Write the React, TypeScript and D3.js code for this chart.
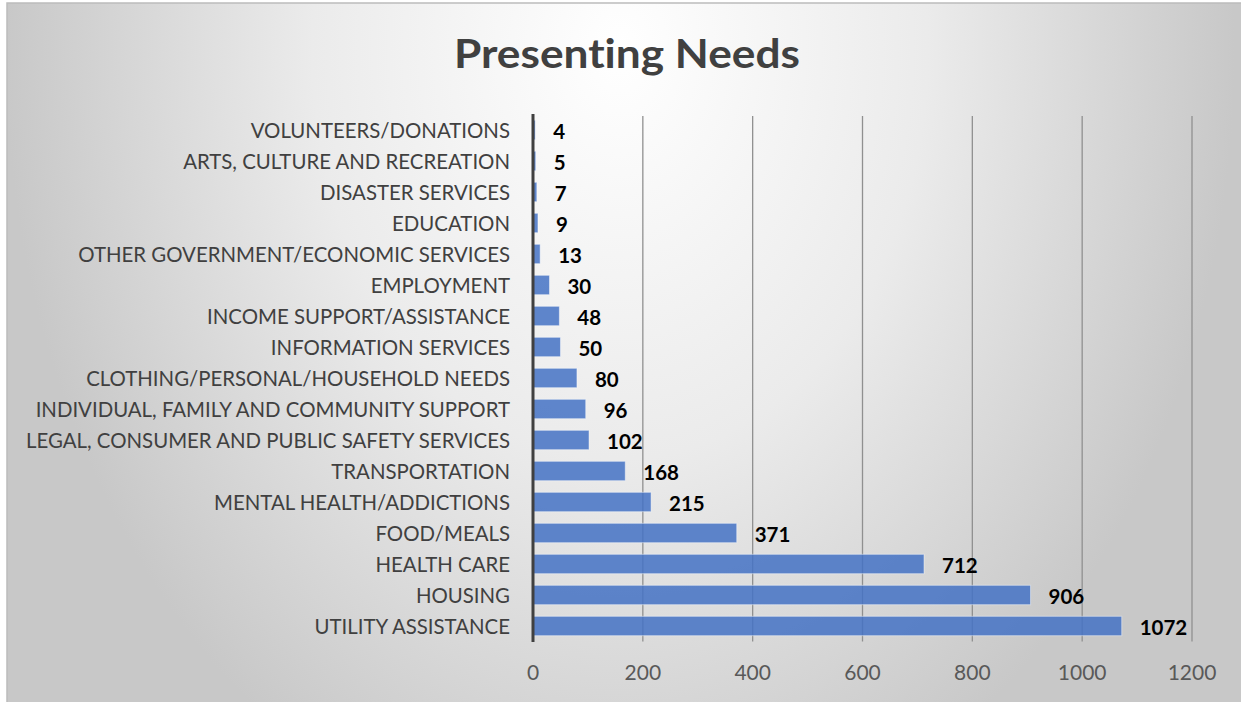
import React from "react";
import * as d3 from "d3";

const categories = [
  "VOLUNTEERS/DONATIONS",
  "ARTS, CULTURE AND RECREATION",
  "DISASTER SERVICES",
  "EDUCATION",
  "OTHER GOVERNMENT/ECONOMIC SERVICES",
  "EMPLOYMENT",
  "INCOME SUPPORT/ASSISTANCE",
  "INFORMATION SERVICES",
  "CLOTHING/PERSONAL/HOUSEHOLD NEEDS",
  "INDIVIDUAL, FAMILY AND COMMUNITY SUPPORT",
  "LEGAL, CONSUMER AND PUBLIC SAFETY SERVICES",
  "TRANSPORTATION",
  "MENTAL HEALTH/ADDICTIONS",
  "FOOD/MEALS",
  "HEALTH CARE",
  "HOUSING",
  "UTILITY ASSISTANCE",
];
const values = [4, 5, 7, 9, 13, 30, 48, 50, 80, 96, 102, 168, 215, 371, 712, 906, 1072];
const xTicks = [0, 200, 400, 600, 800, 1000, 1200];
const title = "Presenting Needs";

const W = 1241;
const H = 702;
const FONT = "Lato, 'Open Sans', sans-serif";
const noLig: React.CSSProperties = {
  fontVariantLigatures: "none",
  fontFeatureSettings: '"liga" 0, "clig" 0',
};

export default function App() {
  const x = d3.scaleLinear().domain([0, 1200]).range([533, 1192]);
  const y = d3
    .scaleBand<string>()
    .domain(categories)
    .range([114.5, 641.5])
    .paddingInner(0.375)
    .paddingOuter(0.1875);

  return (
    <div style={{ position: "absolute", left: 0, top: 0, width: W, height: H }}>
      <svg width={W} height={H} style={{ display: "block" }}>
        <defs>
          <radialGradient
            id="bg"
            gradientUnits="userSpaceOnUse"
            cx={620}
            cy={50}
            r={615}
            gradientTransform="translate(620,50) scale(1,1.33) translate(-620,-50)"
          >
            <stop offset="0" stopColor="#ffffff" />
            <stop offset="0.5" stopColor="#ebebeb" />
            <stop offset="1" stopColor="#c8c8c8" />
          </radialGradient>
        </defs>
        <rect x={0} y={0} width={W} height={H} fill="#ffffff" />
        <rect x={7} y={3} width={W} height={H} fill="url(#bg)" stroke="#bcbcbc" strokeWidth={1.5} />

        <text
          x={627}
          y={68}
          textAnchor="middle"
          fontFamily={FONT}
          fontWeight={700}
          fontSize={40}
          textLength={346}
          lengthAdjust="spacingAndGlyphs"
          fill="#404040"
          style={noLig}
        >
          {title}
        </text>

        {xTicks.slice(1).map((t) => (
          <line
            key={"g" + t}
            x1={x(t)}
            x2={x(t)}
            y1={116}
            y2={641.5}
            stroke="#909090"
            strokeWidth={1.3}
          />
        ))}

        {categories.map((c, i) => (
          <rect
            key={"b" + c}
            x={x(0)}
            y={y(c)!}
            width={x(values[i]) - x(0)}
            height={y.bandwidth()}
            fill="#4472c4"
            fillOpacity={0.85}
            stroke="#ffffff"
            strokeOpacity={0.45}
            strokeWidth={1}
          />
        ))}

        <line x1={x(0)} x2={x(0)} y1={114} y2={642} stroke="#404040" strokeWidth={3} />

        {categories.map((c) => (
          <text
            key={"c" + c}
            x={510}
            y={y(c)! + y.bandwidth() / 2 + 7.5}
            textAnchor="end"
            fontFamily={FONT}
            fontSize={20.4}
            fill="#404040"
            style={noLig}
          >
            {c}
          </text>
        ))}

        {categories.map((c, i) => (
          <text
            key={"v" + c}
            x={x(values[i]) + 18}
            y={y(c)! + y.bandwidth() / 2 + 8.5}
            textAnchor="start"
            fontFamily={FONT}
            fontWeight={700}
            fontSize={20.5}
            fill="#000000"
          >
            {values[i]}
          </text>
        ))}

        {xTicks.map((t) => (
          <text
            key={"t" + t}
            x={x(t)}
            y={680}
            textAnchor="middle"
            fontFamily={FONT}
            fontSize={21}
            fill="#595959"
          >
            {t}
          </text>
        ))}
      </svg>
    </div>
  );
}
